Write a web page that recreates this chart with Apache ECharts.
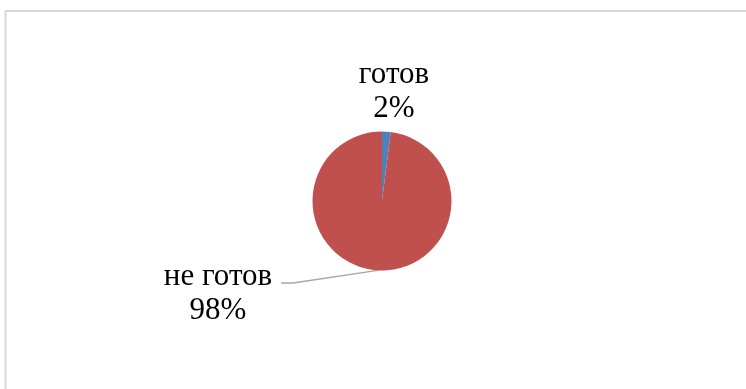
<!DOCTYPE html>
<html>
<head>
<meta charset="utf-8">
<script src="https://cdn.jsdelivr.net/npm/echarts@6/dist/echarts.min.js"></script>
<style>
  html, body { margin: 0; padding: 0; background: #fff; }
  #chart { width: 746px; height: 389px; }
</style>
</head>
<body>
<div id="chart"></div>
<script>
// Readiness shares
const categories = ['готов', 'не готов'];
const values = [2, 98];
const colors = ['#4F81BD', '#C0504D'];

const CX = 382, CY = 201, R = 69.5;

const chart = echarts.init(document.getElementById('chart'), null, { renderer: 'canvas' });

chart.setOption({
  animation: false,
  backgroundColor: '#ffffff',
  graphic: [{
    type: 'rect',
    shape: { x: 5.5, y: 11, width: 800, height: 500 },
    style: { fill: 'none', stroke: '#d9d9d9', lineWidth: 2 },
    silent: true
  }],
  series: [{
    type: 'pie',
    center: [CX, CY],
    radius: [0, R],
    startAngle: 90,
    clockwise: true,
    data: categories.map((name, i) => ({
      name: name,
      value: values[i],
      itemStyle: { color: colors[i] }
    })),
    itemStyle: { borderWidth: 0 },
    label: {
      show: true,
      position: 'outside',
      formatter: '{b}\n{d}%',
      fontFamily: '"Liberation Serif", "Times New Roman", serif',
      fontSize: 31,
      lineHeight: 34,
      color: '#000000',
      align: 'center'
    },
    labelLine: {
      show: true,
      lineStyle: { color: '#a6a6a6', width: 1.3 }
    },
    labelLayout: function (params) {
      const pts = params.labelLinePoints;
      if (params.dataIndex === 0) {
        return { x: CX + 12, y: CY - 109, align: 'center', verticalAlign: 'middle', labelLinePoints: [pts[0], pts[0], pts[0]] };
      }
      const lx = CX - 164, ly = CY + 93;
      const start = pts ? pts[0] : [CX, CY + R];
      return {
        x: lx, y: ly, align: 'center', verticalAlign: 'middle',
        labelLinePoints: [start, [CX - 89, CY + 82], [CX - 101, CY + 82]]
      };
    }
  }]
});
</script>
</body>
</html>
